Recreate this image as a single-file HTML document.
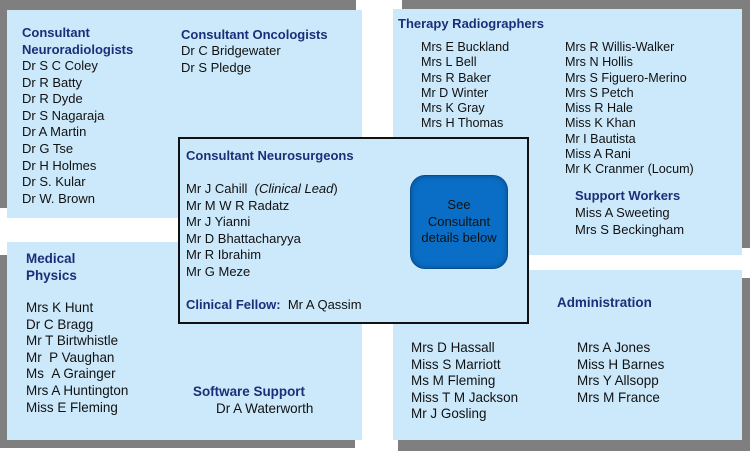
<!DOCTYPE html>
<html><head><meta charset="utf-8"><style>
body{margin:0;width:750px;height:451px;background:#fff;position:relative;overflow:hidden;font-family:"Liberation Sans",Arial,sans-serif;}
.g{position:absolute;background:#7f7f7f}
.p{position:absolute;background:#cce9fb}
.t{position:absolute;font-size:13px;line-height:16.6px;color:#111;white-space:nowrap}
.h{font-weight:bold;color:#1b2f78}
.c{font-size:14px;transform:scaleX(0.96);transform-origin:0 0}
</style></head><body>
<div class="g" style="left:0;top:0;width:356px;height:208px"></div>
<div class="p" style="left:7px;top:10px;width:355px;height:208px"></div>
<div class="g" style="left:402px;top:0;width:348px;height:248px"></div>
<div class="p" style="left:393px;top:9px;width:349px;height:246px"></div>
<div class="g" style="left:0;top:255px;width:355px;height:193px"></div>
<div class="p" style="left:7px;top:242px;width:355px;height:198px"></div>
<div class="g" style="left:398px;top:278px;width:352px;height:173px"></div>
<div class="p" style="left:393px;top:270px;width:349px;height:170px"></div>
<div class="p" style="left:178px;top:137px;width:347px;height:183px;border:2px solid #111"></div>
<div style="position:absolute;left:410px;top:175px;width:96px;height:92px;border-radius:15px;background:#0a6ec6;border:1px solid #064e92;box-shadow:inset 0 0 6px rgba(0,0,0,.3);color:#111;font-size:13px;line-height:16.6px;text-align:center;display:flex;align-items:center;justify-content:center">See<br>Consultant<br>details below</div>

<div class="t h" style="left:22px;top:25px">Consultant<br>Neuroradiologists</div>
<div class="t" style="left:22px;top:58px">Dr S C Coley<br>Dr R Batty<br>Dr R Dyde<br>Dr S Nagaraja<br>Dr A Martin<br>Dr G Tse<br>Dr H Holmes<br>Dr S. Kular<br>Dr W. Brown</div>
<div class="t h" style="left:181px;top:27px">Consultant Oncologists</div>
<div class="t" style="left:181px;top:43px">Dr C Bridgewater<br>Dr S Pledge</div>

<div class="t h" style="left:398px;top:16px">Therapy Radiographers</div>
<div class="t" style="left:421px;top:40px;font-size:12.6px;line-height:15.3px">Mrs E Buckland<br>Mrs L Bell<br>Mrs R Baker<br>Mr D Winter<br>Mrs K Gray<br>Mrs H Thomas</div>
<div class="t" style="left:565px;top:40px;font-size:12.6px;line-height:15.3px">Mrs R Willis-Walker<br>Mrs N Hollis<br>Mrs S Figuero-Merino<br>Mrs S Petch<br>Miss R Hale<br>Miss K Khan<br>Mr I Bautista<br>Miss A Rani<br>Mr K Cranmer (Locum)</div>
<div class="t h" style="left:575px;top:188px">Support Workers</div>
<div class="t" style="left:575px;top:205px">Miss A Sweeting<br>Mrs S Beckingham</div>

<div class="t h" style="left:186px;top:148px">Consultant Neurosurgeons</div>
<div class="t" style="left:186px;top:181px">Mr J Cahill &nbsp;<i>(Clinical Lead</i>)<br>Mr M W R Radatz<br>Mr J Yianni<br>Mr D Bhattacharyya<br>Mr R Ibrahim<br>Mr G Meze</div>
<div class="t" style="left:186px;top:297px"><span class="h">Clinical Fellow:</span>&nbsp; Mr A Qassim</div>

<div class="t h c" style="left:26px;top:250px">Medical<br>Physics</div>
<div class="t c" style="left:26px;top:299px">Mrs K Hunt<br>Dr C Bragg<br>Mr T Birtwhistle<br>Mr &nbsp;P Vaughan<br>Ms &nbsp;A Grainger<br>Mrs A Huntington<br>Miss E Fleming</div>
<div class="t h c" style="left:193px;top:383px">Software Support</div>
<div class="t c" style="left:216px;top:400px">Dr A Waterworth</div>

<div class="t h c" style="left:557px;top:294px">Administration</div>
<div class="t c" style="left:411px;top:339px">Mrs D Hassall<br>Miss S Marriott<br>Ms M Fleming<br>Miss T M Jackson<br>Mr J Gosling</div>
<div class="t c" style="left:577px;top:339px">Mrs A Jones<br>Miss H Barnes<br>Mrs Y Allsopp<br>Mrs M France</div>
</body></html>
